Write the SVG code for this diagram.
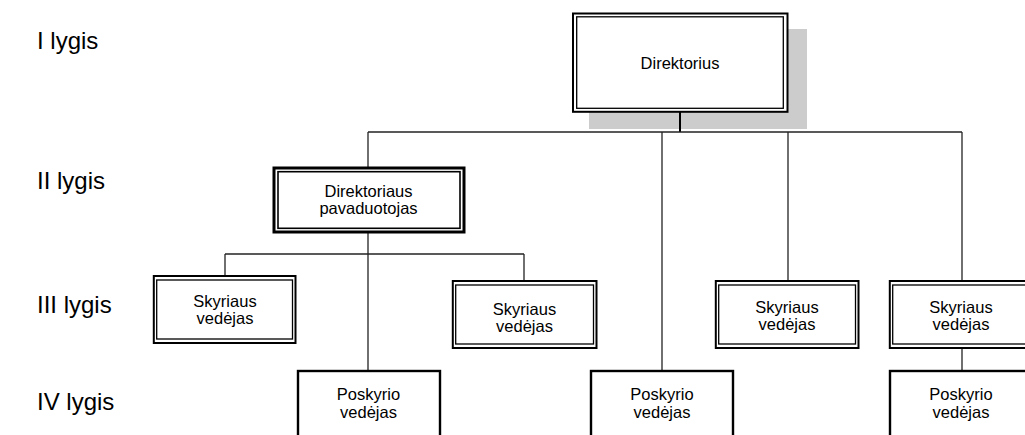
<svg xmlns="http://www.w3.org/2000/svg" width="1025" height="435" viewBox="0 0 1025 435">
<style>
text{font-family:"Liberation Sans",Arial,sans-serif;fill:#000}
.lvl{font-size:24px}
.t{font-size:16.5px;text-anchor:middle}
.o2{fill:#fff;stroke:#000;stroke-width:2}
.i2{fill:none;stroke:#000;stroke-width:1.3}
.o3{fill:#fff;stroke:#000;stroke-width:3}
.i3{fill:none;stroke:#000;stroke-width:1.6}
.ps{fill:#fff;stroke:#000;stroke-width:2.4}
.c{fill:none;stroke:#222;stroke-width:1.3}
</style>
<rect width="1025" height="435" fill="#fff"/>
<g id="levels">
<text class="lvl" x="37" y="49">I lygis</text>
<text class="lvl" x="37" y="189">II lygis</text>
<text class="lvl" x="37" y="313">III lygis</text>
<text class="lvl" x="37" y="410">IV lygis</text>
</g>
<rect x="589" y="29" width="218" height="100" fill="#cccccc"/>
<g id="connectors">
<line x1="680" y1="112" x2="680" y2="132" stroke="#000" stroke-width="2"/>
<line class="c" x1="368" y1="132" x2="962" y2="132"/>
<line class="c" x1="368" y1="132" x2="368" y2="167"/>
<line class="c" x1="662" y1="132" x2="662" y2="371"/>
<line class="c" x1="788" y1="132" x2="788" y2="281"/>
<line class="c" x1="962" y1="132" x2="962" y2="281"/>
<line class="c" x1="368" y1="233" x2="368" y2="371"/>
<line class="c" x1="225" y1="254" x2="524" y2="254"/>
<line class="c" x1="225" y1="254" x2="225" y2="276"/>
<line class="c" x1="524" y1="254" x2="524" y2="281"/>
<line class="c" x1="962" y1="349" x2="962" y2="371"/>
</g>
<g id="n-direktorius">
<rect class="o2" x="573" y="13.5" width="214.5" height="98.3"/>
<rect class="i2" x="576.7" y="16.8" width="206.6" height="91.5"/>
<text class="t" x="680" y="68.5">Direktorius</text>
</g>
<g id="n-pavaduotojas">
<rect class="o3" x="274" y="168" width="190" height="64"/>
<rect class="i3" x="278" y="171.7" width="182" height="56.6"/>
<text class="t" x="368.5" y="197">Direktoriaus</text>
<text class="t" x="368.5" y="214">pavaduotojas</text>
</g>
<g id="n-skyr1">
<rect class="o2" x="153.8" y="276" width="141.7" height="67"/>
<rect class="i2" x="156.7" y="280" width="135.8" height="59"/>
<text class="t" x="225" y="307">Skyriaus</text>
<text class="t" x="225" y="324">vedėjas</text>
</g>
<g id="n-skyr2">
<rect class="o2" x="452.8" y="281" width="143.7" height="67"/>
<rect class="i2" x="455.7" y="285" width="137.8" height="59"/>
<text class="t" x="524.5" y="315">Skyriaus</text>
<text class="t" x="524.5" y="332">vedėjas</text>
</g>
<g id="n-skyr3">
<rect class="o2" x="715.8" y="281" width="142.7" height="67"/>
<rect class="i2" x="718.7" y="285" width="136.8" height="59"/>
<text class="t" x="787" y="313">Skyriaus</text>
<text class="t" x="787" y="330">vedėjas</text>
</g>
<g id="n-skyr4">
<rect class="o2" x="889.8" y="281" width="143" height="67"/>
<rect class="i2" x="892.7" y="285" width="137" height="59"/>
<text class="t" x="961" y="313">Skyriaus</text>
<text class="t" x="961" y="330">vedėjas</text>
</g>
<g id="n-posk1">
<rect class="ps" x="298" y="371" width="142" height="80"/>
<text class="t" x="368.5" y="400">Poskyrio</text>
<text class="t" x="368.5" y="418">vedėjas</text>
</g>
<g id="n-posk2">
<rect class="ps" x="591" y="371" width="142" height="80"/>
<text class="t" x="662" y="400">Poskyrio</text>
<text class="t" x="662" y="418">vedėjas</text>
</g>
<g id="n-posk3">
<rect class="ps" x="890" y="371" width="142" height="80"/>
<text class="t" x="961" y="400">Poskyrio</text>
<text class="t" x="961" y="418">vedėjas</text>
</g>
</svg>
